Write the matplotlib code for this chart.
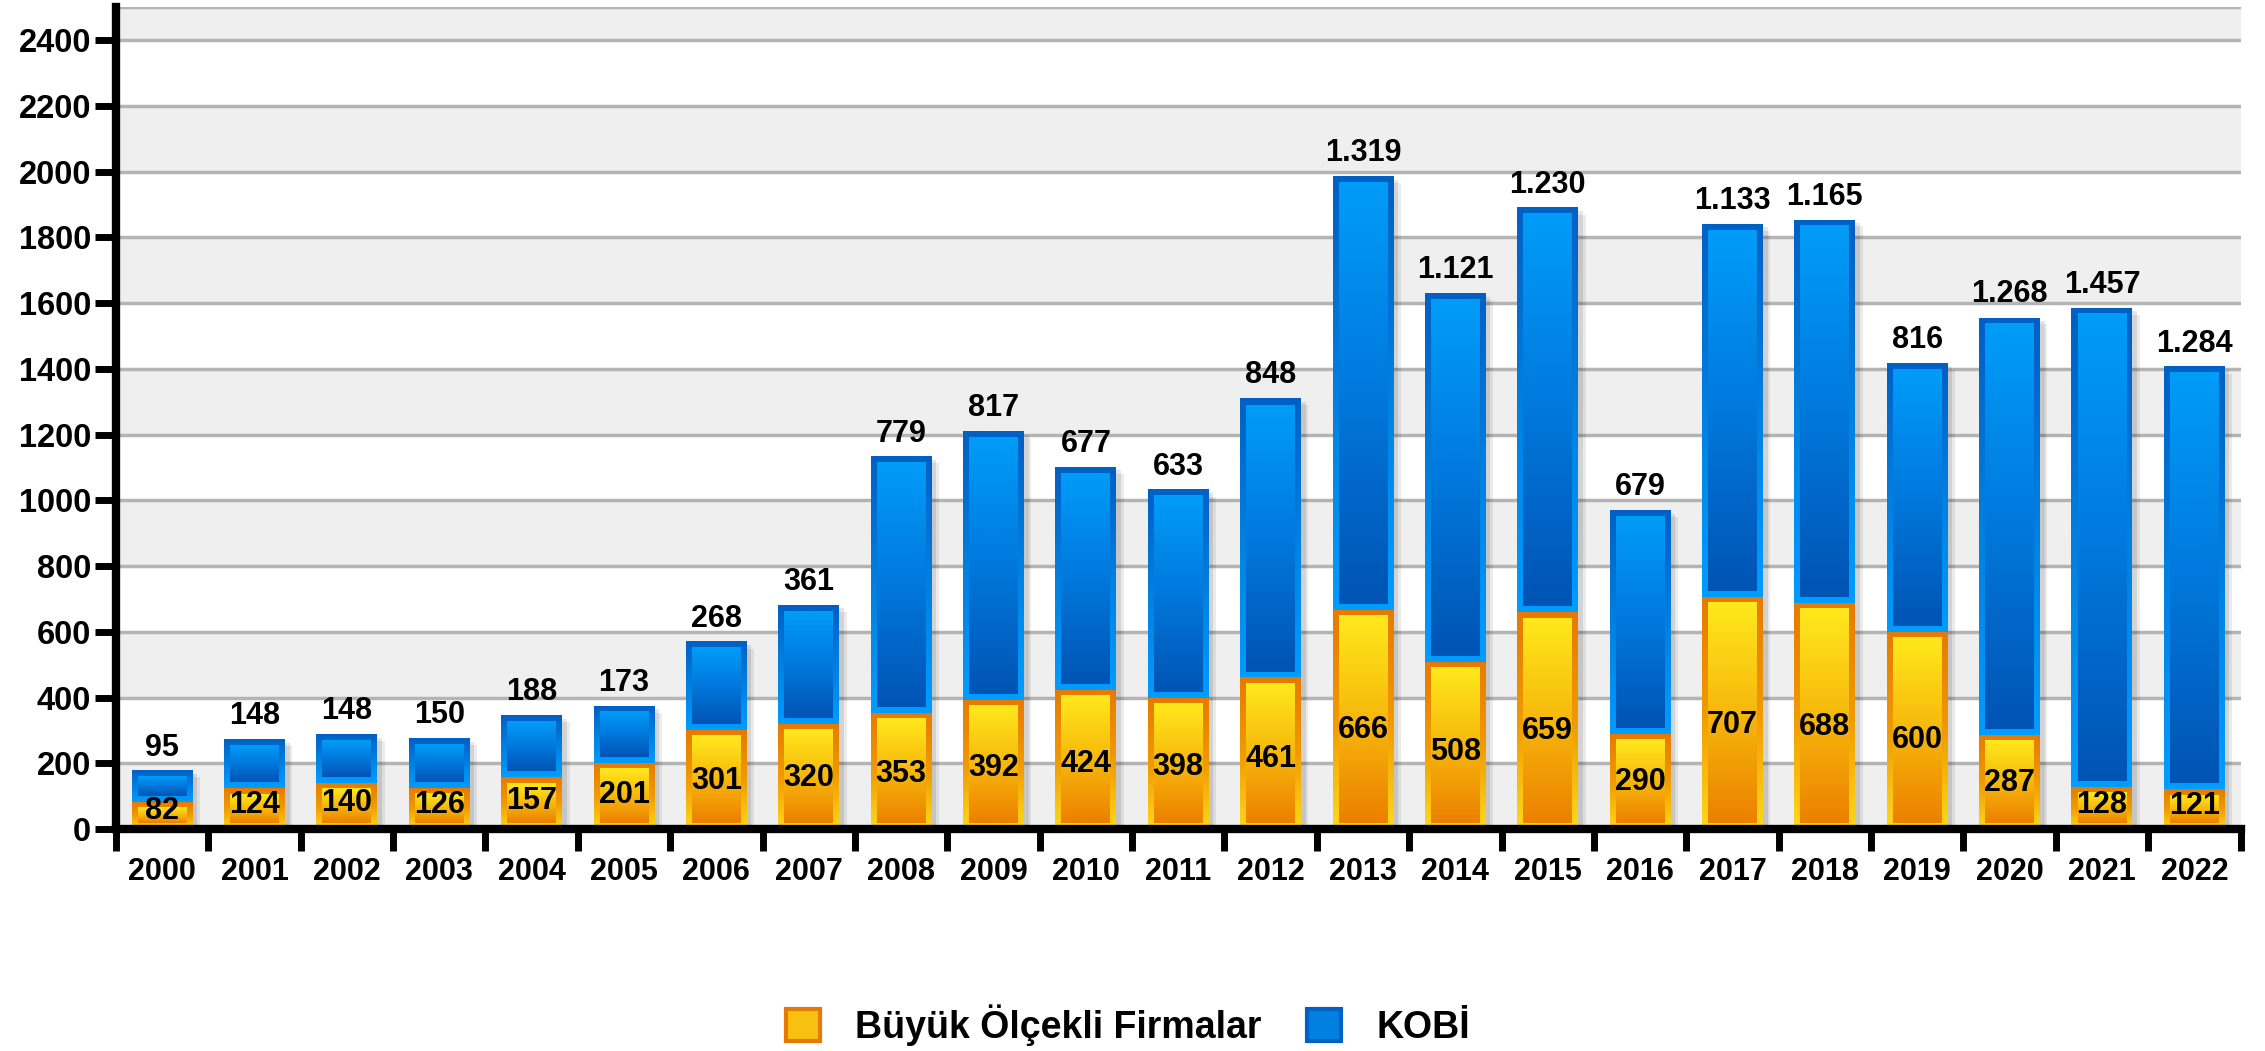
import numpy as np
import matplotlib.pyplot as plt
from matplotlib.colors import LinearSegmentedColormap
from matplotlib.patches import Patch

plt.rcParams['font.family'] = ['Liberation Sans', 'DejaVu Sans']
plt.rcParams['font.weight'] = 'bold'

# Veriler
years = [str(y) for y in range(2000, 2023)]
buyuk = [82, 124, 140, 126, 157, 201, 301, 320, 353, 392, 424, 398, 461,
         666, 508, 659, 290, 707, 688, 600, 287, 128, 121]
kobi = [95, 148, 148, 150, 188, 173, 268, 361, 779, 817, 677, 633, 848,
        1319, 1121, 1230, 679, 1133, 1165, 816, 1268, 1457, 1284]
kobi_labels = ['95', '148', '148', '150', '188', '173', '268', '361', '779', '817',
               '677', '633', '848', '1.319', '1.121', '1.230', '679', '1.133',
               '1.165', '816', '1.268', '1.457', '1.284']

# Renk geçişleri (üst -> alt)
orange_in = LinearSegmentedColormap.from_list('oi', ['#ffe81c', '#f7b80c', '#ec8000'])
orange_out = LinearSegmentedColormap.from_list('oo', ['#e67a00', '#f09a00', '#ffd81a'])
blue_in = LinearSegmentedColormap.from_list('bi', ['#009cf8', '#0078dc', '#0054b4'])
blue_out = LinearSegmentedColormap.from_list('bo', ['#0060c4', '#0080e0', '#009cff'])

fig = plt.figure(figsize=(22.65, 10.51), dpi=100)
ax = fig.add_axes([0.0512, 0.2112, 0.9380, 0.7820])

x = np.arange(len(years))
w = 0.66
ymax = 2500

# Arka plan bantları
for y0 in range(0, ymax, 400):
    ax.axhspan(y0, min(y0 + 200, ymax), color='#efefef', zorder=0, lw=0)
ax.axhline(ymax, color='#b4b4b4', lw=2.5, zorder=1)

totals = np.array(buyuk) + np.array(kobi)

# Gölge
ax.bar(x + 0.05, totals - 10, width=w, color='black', alpha=0.10, zorder=1, lw=0)
ax.bar(x + 0.08, totals - 20, width=w, color='black', alpha=0.08, zorder=1, lw=0)

b1 = ax.bar(x, buyuk, width=w, color='none', lw=0, zorder=2)
b2 = ax.bar(x, kobi, width=w, bottom=buyuk, color='none', lw=0, zorder=2)

grad = np.linspace(0, 1, 100).reshape(-1, 1)
bx, by = 0.065, 18  # kenarlık kalınlığı


def fill(rect, cin, cout):
    x0, y0 = rect.get_x(), rect.get_y()
    x1, y1 = x0 + rect.get_width(), y0 + rect.get_height()
    ax.imshow(grad, cmap=cout, extent=[x0, x1, y0, y1], aspect='auto',
              origin='upper', zorder=3, interpolation='bilinear')
    if y1 - y0 > 2 * by:
        ax.imshow(grad, cmap=cin, extent=[x0 + bx, x1 - bx, y0 + by, y1 - by],
                  aspect='auto', origin='upper', zorder=4, interpolation='bilinear')


for r in b1:
    fill(r, orange_in, orange_out)
for r in b2:
    fill(r, blue_in, blue_out)

ax.set_xlim(-0.5, len(years) - 0.5)
ax.set_ylim(0, ymax)

# Değer etiketleri
for i in range(len(years)):
    ax.text(x[i], 0.42 * buyuk[i] + 20, str(buyuk[i]), ha='center', va='center',
            fontsize=22, fontweight='bold', zorder=6)
    ax.annotate(kobi_labels[i], (x[i], totals[i]), xytext=(0, 6),
                textcoords='offset points', ha='center', va='bottom',
                fontsize=22, fontweight='bold', zorder=6)

# Eksenler
ax.set_yticks(range(0, 2401, 200))
ax.yaxis.grid(True, color='#b4b4b4', lw=2.5, zorder=1)
ax.set_axisbelow(True)
ax.set_xticks(np.arange(-0.5, len(years), 1))
ax.set_xticklabels([])
ax.set_xticks(x, minor=True)
ax.set_xticklabels(years, minor=True, fontsize=22, fontweight='bold')
ax.tick_params(axis='x', which='major', length=16, width=5, color='black')
ax.tick_params(axis='x', which='minor', length=0, pad=20)
ax.tick_params(axis='y', length=15, width=5, pad=3, labelsize=23.5)
for t in ax.get_yticklabels():
    t.set_fontweight('bold')
for s in ['top', 'right']:
    ax.spines[s].set_visible(False)
for s in ['left', 'bottom']:
    ax.spines[s].set_linewidth(6)
    ax.spines[s].set_zorder(7)

handles = [Patch(facecolor='#f8c010', edgecolor='#e67a00', lw=3),
           Patch(facecolor='#0080e0', edgecolor='#0060c4', lw=3)]
fig.legend(handles, ['Büyük Ölçekli Firmalar', 'KOBİ'], loc='center',
           bbox_to_anchor=(0.498, 1 - 1025 / 1051), ncol=2, frameon=False,
           prop={'size': 27, 'weight': 'bold'}, handlelength=0.9, handleheight=0.95,
           handletextpad=0.95, columnspacing=1.2)

fig.savefig('out.png', dpi=100)
